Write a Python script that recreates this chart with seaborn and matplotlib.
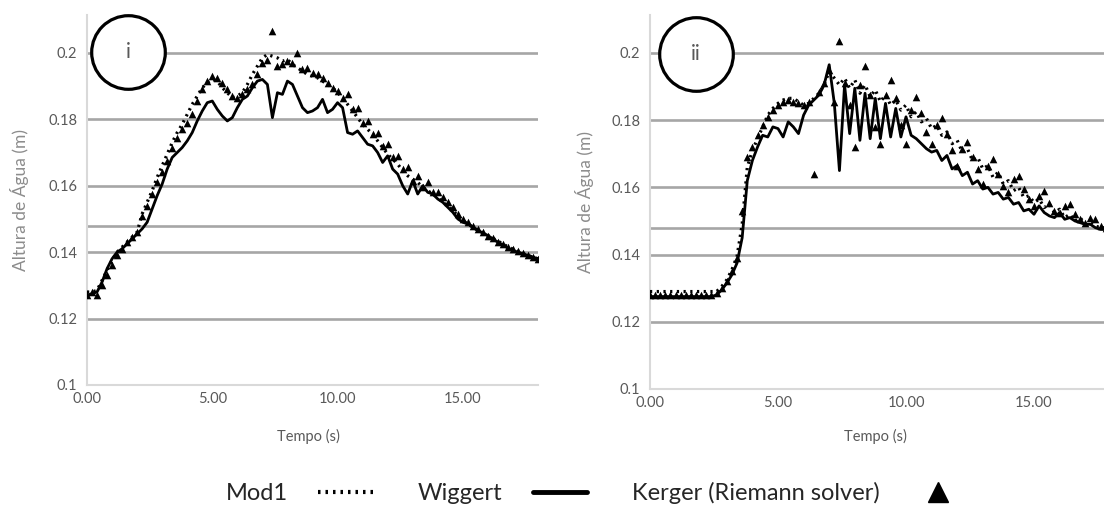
import numpy as np
import pandas as pd
import matplotlib
matplotlib.use("Agg")
import matplotlib.pyplot as plt
from matplotlib.lines import Line2D
import seaborn as sns

# Sampling instants (s)
time_s = np.round(np.arange(0, 18.01, 0.2), 1)

# ---- Panel i: water height (m) ----
mod1_i = [
    0.128, 0.128, 0.1285, 0.1315, 0.1345, 0.1375, 0.140, 0.1415, 0.143, 0.1445,
    0.146, 0.1515, 0.155, 0.1585, 0.1625, 0.166, 0.1695, 0.173, 0.176, 0.1785,
    0.1815, 0.1845, 0.187, 0.1895, 0.191, 0.192, 0.1915, 0.1895, 0.188, 0.1865,
    0.187, 0.188, 0.1905, 0.1935, 0.196, 0.1985, 0.1995, 0.199, 0.1985, 0.1975,
    0.198, 0.1965, 0.1955, 0.1945, 0.1935, 0.193, 0.1925, 0.1915, 0.1905, 0.1895,
    0.188, 0.1865, 0.1845, 0.1825, 0.1805, 0.1785, 0.177, 0.1755, 0.1735, 0.1715,
    0.1695, 0.168, 0.1665, 0.1645, 0.163, 0.162, 0.161, 0.1595, 0.1585, 0.1575,
    0.1565, 0.155, 0.154, 0.1525, 0.151, 0.1495, 0.1485, 0.1475, 0.1466, 0.1458,
    0.145, 0.1442, 0.1433, 0.1425, 0.1416, 0.1409, 0.1402, 0.1396, 0.139, 0.1385,
    0.138,
]
wiggert_i = [
    0.127, 0.1275, 0.128, 0.131, 0.135, 0.138, 0.140, 0.141, 0.1425, 0.144,
    0.1455, 0.147, 0.149, 0.153, 0.157, 0.1605, 0.165, 0.1685, 0.170, 0.1715,
    0.1735, 0.176, 0.1795, 0.1825, 0.185, 0.1855, 0.183, 0.181, 0.1795, 0.1805,
    0.1835, 0.186, 0.187, 0.1895, 0.1915, 0.192, 0.1905, 0.1805, 0.188, 0.1875,
    0.1915, 0.1905, 0.187, 0.1835, 0.182, 0.1825, 0.1835, 0.186, 0.182, 0.183,
    0.185, 0.1835, 0.176, 0.1755, 0.1765, 0.1745, 0.1725, 0.172, 0.170, 0.167,
    0.169, 0.165, 0.1635, 0.160, 0.1575, 0.1615, 0.1575, 0.160, 0.158, 0.1575,
    0.156, 0.155, 0.1535, 0.152, 0.150, 0.149, 0.1485, 0.1475, 0.1465, 0.1458,
    0.145, 0.144, 0.143, 0.1422, 0.1412, 0.1405, 0.140, 0.1395, 0.139, 0.1385,
    0.138,
]
kerger_i = [
    0.127, 0.128, 0.127, 0.130, 0.133, 0.136, 0.139, 0.141, 0.143, 0.1445,
    0.146, 0.151, 0.154, 0.1575, 0.161, 0.164, 0.1675, 0.1715, 0.1745, 0.177,
    0.179, 0.1815, 0.1855, 0.189, 0.1915, 0.193, 0.1925, 0.191, 0.189, 0.187,
    0.1865, 0.1875, 0.189, 0.1905, 0.1935, 0.197, 0.198, 0.2065, 0.196, 0.1965,
    0.1975, 0.197, 0.200, 0.195, 0.1955, 0.194, 0.1935, 0.1925, 0.191, 0.1895,
    0.1885, 0.1865, 0.1875, 0.183, 0.1835, 0.179, 0.1795, 0.1755, 0.176, 0.172,
    0.1725, 0.1685, 0.169, 0.165, 0.1655, 0.1615, 0.163, 0.1595, 0.161, 0.158,
    0.158, 0.1565, 0.155, 0.1535, 0.1515, 0.150, 0.149, 0.148, 0.147, 0.146,
    0.145, 0.1442, 0.1432, 0.1424, 0.1415, 0.1408, 0.1402, 0.1396, 0.139, 0.1385,
    0.138,
]

# ---- Panel ii: water height (m) ----
mod1_ii = [
    0.129, 0.129, 0.129, 0.129, 0.129, 0.129, 0.129, 0.129, 0.129, 0.129,
    0.129, 0.129, 0.129, 0.129, 0.1305, 0.1325, 0.1355, 0.1395, 0.149, 0.166,
    0.171, 0.1745, 0.178, 0.1815, 0.1835, 0.185, 0.186, 0.1865, 0.1865, 0.1855,
    0.1845, 0.185, 0.1865, 0.188, 0.1905, 0.1945, 0.1925, 0.1905, 0.1925, 0.1895,
    0.192, 0.188, 0.1905, 0.187, 0.189, 0.1855, 0.1875, 0.1845, 0.186, 0.183,
    0.1845, 0.181, 0.1825, 0.1795, 0.1805, 0.1775, 0.1785, 0.1755, 0.1765, 0.173,
    0.174, 0.1705, 0.1715, 0.168, 0.169, 0.1655, 0.1665, 0.163, 0.1645, 0.161,
    0.162, 0.159, 0.160, 0.157, 0.1575, 0.1555, 0.1565, 0.154, 0.155, 0.1525,
    0.1535, 0.151, 0.152, 0.150, 0.151, 0.149, 0.1495, 0.1485, 0.148, 0.148,
    0.1475,
]
wiggert_ii = [
    0.1275, 0.1275, 0.1275, 0.1275, 0.1275, 0.1275, 0.1275, 0.1275, 0.1275, 0.1275,
    0.1275, 0.1275, 0.1275, 0.128, 0.1295, 0.1315, 0.134, 0.1375, 0.145, 0.162,
    0.168, 0.172, 0.1755, 0.175, 0.178, 0.1775, 0.175, 0.1795, 0.178, 0.176,
    0.1815, 0.1845, 0.186, 0.1875, 0.1905, 0.1965, 0.185, 0.165, 0.1905, 0.176,
    0.1895, 0.174, 0.188, 0.1745, 0.1865, 0.1745, 0.185, 0.175, 0.1835, 0.175,
    0.181, 0.1755, 0.1745, 0.173, 0.1715, 0.1705, 0.171, 0.168, 0.1695, 0.1655,
    0.1665, 0.1635, 0.1645, 0.161, 0.162, 0.1595, 0.160, 0.158, 0.1585, 0.1565,
    0.157, 0.155, 0.1555, 0.153, 0.1535, 0.152, 0.1545, 0.1525, 0.1515, 0.151,
    0.1525, 0.1505, 0.151, 0.150, 0.1495, 0.149, 0.149, 0.148, 0.1475, 0.1475,
    0.147,
]
kerger_ii = [
    0.128, 0.128, 0.128, 0.128, 0.128, 0.128, 0.128, 0.128, 0.128, 0.128,
    0.128, 0.128, 0.128, 0.1285, 0.130, 0.132, 0.135, 0.139, 0.153, 0.169,
    0.172, 0.1755, 0.1785, 0.181, 0.183, 0.1845, 0.1855, 0.186, 0.1855, 0.185,
    0.1845, 0.1855, 0.164, 0.1885, 0.191, 0.195, 0.1855, 0.2035, 0.191, 0.1845,
    0.172, 0.1905, 0.196, 0.1875, 0.178, 0.173, 0.1875, 0.192, 0.1865, 0.1785,
    0.173, 0.183, 0.187, 0.182, 0.1765, 0.173, 0.1785, 0.1805, 0.176, 0.171,
    0.1665, 0.1715, 0.1735, 0.169, 0.1655, 0.161, 0.1665, 0.1685, 0.164, 0.1605,
    0.1585, 0.1625, 0.1635, 0.1595, 0.1565, 0.1545, 0.1575, 0.159, 0.1555, 0.153,
    0.1525, 0.1545, 0.155, 0.152, 0.1505, 0.1495, 0.151, 0.1505, 0.1485, 0.148,
    0.1475,
]

panel_tags = ["i", "ii"]
y_ticks = [0.1, 0.12, 0.14, 0.16, 0.18, 0.2]
y_tick_labels = ["0.1", "0.12", "0.14", "0.16", "0.18", "0.2"]
x_ticks = [0, 5, 10, 15]
x_tick_labels = ["0.00", "5.00", "10.00", "15.00"]
reference_level = 0.148
series_names = ["Mod1", "Wiggert", "Kerger (Riemann solver)"]

sns.set_theme(style="white")
plt.rcParams["font.family"] = ["Lato", "DejaVu Sans"]

GRAY_TXT = "#595959"
GRID = "#a6a6a6"
SPINE = "#d9d9d9"

fig = plt.figure(figsize=(11.04, 5.07), dpi=100)
W, H = 1104, 507
ax_i = fig.add_axes([87 / W, 1 - 385 / H, (538 - 87) / W, (385 - 15) / H])
ax_ii = fig.add_axes([650 / W, 1 - 389 / H, 460.8 / W, (389 - 15) / H])


def draw_panel(ax, mod1, wiggert, kerger, tag, ymax, circle_x, circle_y, ylab_x, xlab_y):
    df = pd.DataFrame({"t": time_s, "Mod1": mod1, "Wiggert": wiggert, "Kerger": kerger})

    for yv in y_ticks[1:] + [reference_level]:
        ax.axhline(yv, color=GRID, lw=1.9, zorder=0)

    sns.lineplot(data=df, x="t", y="Wiggert", ax=ax, color="black", lw=2.0,
                 zorder=3, estimator=None)
    sns.lineplot(data=df, x="t", y="Mod1", ax=ax, color="black", lw=2.3,
                 linestyle=(0, (0.7, 1.4)), zorder=4, estimator=None)
    sns.scatterplot(data=df, x="t", y="Kerger", ax=ax, color="black", marker="^",
                    s=30, linewidth=0, zorder=4)

    ax.set_xlim(0, 18)
    ax.set_ylim(0.1, ymax)
    ax.set_yticks(y_ticks)
    ax.set_yticklabels(y_tick_labels)
    ax.set_xticks(x_ticks)
    ax.set_xticklabels(x_tick_labels)
    ax.tick_params(axis="both", length=0, labelsize=10.5, labelcolor=GRAY_TXT)
    ax.tick_params(axis="y", pad=7)
    ax.tick_params(axis="x", pad=5)

    for side in ("top", "right"):
        ax.spines[side].set_visible(False)
    for side in ("left", "bottom"):
        ax.spines[side].set_color(SPINE)
        ax.spines[side].set_linewidth(1.5)

    ax.set_ylabel("Altura de Água (m)", fontsize=12.5, color="#8c8c8c")
    ax.yaxis.set_label_coords(ylab_x, 0.5)
    ax.set_xlabel("Tempo (s)", fontsize=10.5, color=GRAY_TXT)
    ax.xaxis.set_label_coords(0.49, xlab_y)

    # circled panel tag
    ax.plot([circle_x], [circle_y], marker="o", ms=53, mfc="white", mec="black",
            mew=2.3, clip_on=False, zorder=6)
    ax.text(circle_x, circle_y, tag, ha="center", va="center", fontsize=15,
            color=GRAY_TXT, zorder=7)


draw_panel(ax_i, mod1_i, wiggert_i, kerger_i, panel_tags[0], 0.2114,
           1.64, 0.2003, -0.128, -0.118)
draw_panel(ax_ii, mod1_ii, wiggert_ii, kerger_ii, panel_tags[1], 0.2113,
           1.8, 0.1997, -0.121, -0.108)

handles = [
    Line2D([], [], color="black", lw=3, linestyle=(0, (0.6, 1.2))),
    Line2D([], [], color="black", lw=3.5),
    Line2D([], [], color="black", lw=0, marker="^", ms=14),
]
fig.legend(handles, series_names, loc="center", bbox_to_anchor=(0.539, 0.0276),
           ncol=3, frameon=False, markerfirst=False, fontsize=17,
           handlelength=2.3, handletextpad=1.3, columnspacing=1.9,
           labelcolor="#262626")

fig.savefig("out.png", dpi=100)
